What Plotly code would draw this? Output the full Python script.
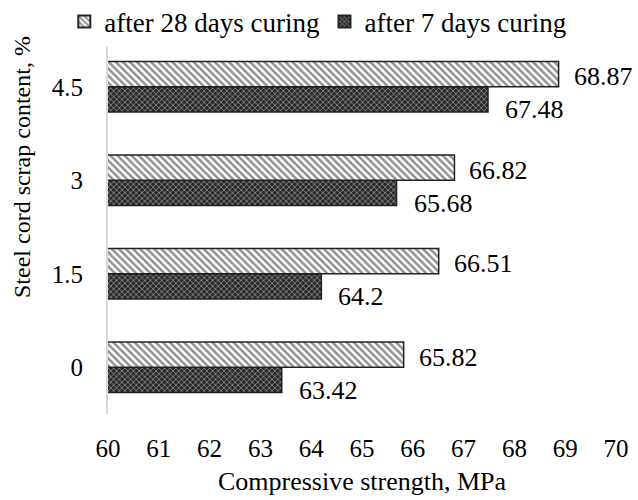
import plotly.graph_objects as go

categories = ["0", "1.5", "3", "4.5"]
days28 = [65.82, 66.51, 66.82, 68.87]
days7 = [63.42, 64.2, 65.68, 67.48]
x_ticks = list(range(60, 71))

FONT = "Liberation Serif"

fig = go.Figure()
fig.add_trace(go.Bar(
    name="after 7 days curing", y=categories, x=days7, orientation="h",
    marker=dict(color="#333", line=dict(color="#222", width=1.5),
                pattern=dict(shape="x", fgcolor="white", bgcolor="#2a2a2a", size=4, solidity=0.35)),
))
fig.add_trace(go.Bar(
    name="after 28 days curing", y=categories, x=days28, orientation="h",
    marker=dict(color="white", line=dict(color="#222", width=1.5),
                pattern=dict(shape="\\", fgcolor="#222", bgcolor="white", size=5, solidity=0.5)),
))

annotations = []
for i, v in enumerate(days28):
    annotations.append(dict(x=v, y=i, xref="x", yref="y", text=str(v), showarrow=False,
                            xanchor="left", xshift=13, yshift=10,
                            font=dict(family=FONT, size=26, color="black")))
for i, v in enumerate(days7):
    annotations.append(dict(x=v, y=i, xref="x", yref="y", text=str(v), showarrow=False,
                            xanchor="left", xshift=15, yshift=-23,
                            font=dict(family=FONT, size=26, color="black")))
annotations.append(dict(x=(22 - 108) / 508, y=(414 - 167) / 374, xref="paper", yref="paper",
                        xanchor="center", yanchor="middle",
                        text="Steel cord scrap content, %", textangle=-90, showarrow=False,
                        font=dict(family=FONT, size=24, color="black")))

fig.update_layout(
    width=638, height=500,
    margin=dict(l=108, r=22, t=40, b=86, autoexpand=False),
    paper_bgcolor="white", plot_bgcolor="white",
    barmode="group", bargap=0.46, bargroupgap=0,
    font=dict(family=FONT, size=25, color="black"),
    showlegend=True,
    legend=dict(orientation="h", x=0.413, xanchor="center",
                yref="container", y=1 - 22 / 500, yanchor="middle",
                traceorder="reversed", font=dict(family=FONT, size=27, color="black"),
                itemwidth=30, itemsizing="constant", tracegroupgap=0),
    annotations=annotations,
    xaxis=dict(range=[60, 70], tickvals=x_ticks, showgrid=False, zeroline=False,
               showline=False, ticks="outside", ticklen=12, tickcolor="white",
               tickfont=dict(family=FONT, size=25),
               title=dict(text="Compressive strength, MPa", standoff=10,
                          font=dict(family=FONT, size=26))),
    yaxis=dict(type="category", categoryorder="array", categoryarray=categories,
               range=[-0.5, 3.5],
               tickfont=dict(family=FONT, size=25),
               showgrid=False, zeroline=False, showline=True, linecolor="#d9d9d9",
               linewidth=2, ticks="outside", ticklen=18, tickcolor="white"),
)

fig.write_html("out.html", config={"displayModeBar": False},
               post_script="document.body.style.margin='0';")
